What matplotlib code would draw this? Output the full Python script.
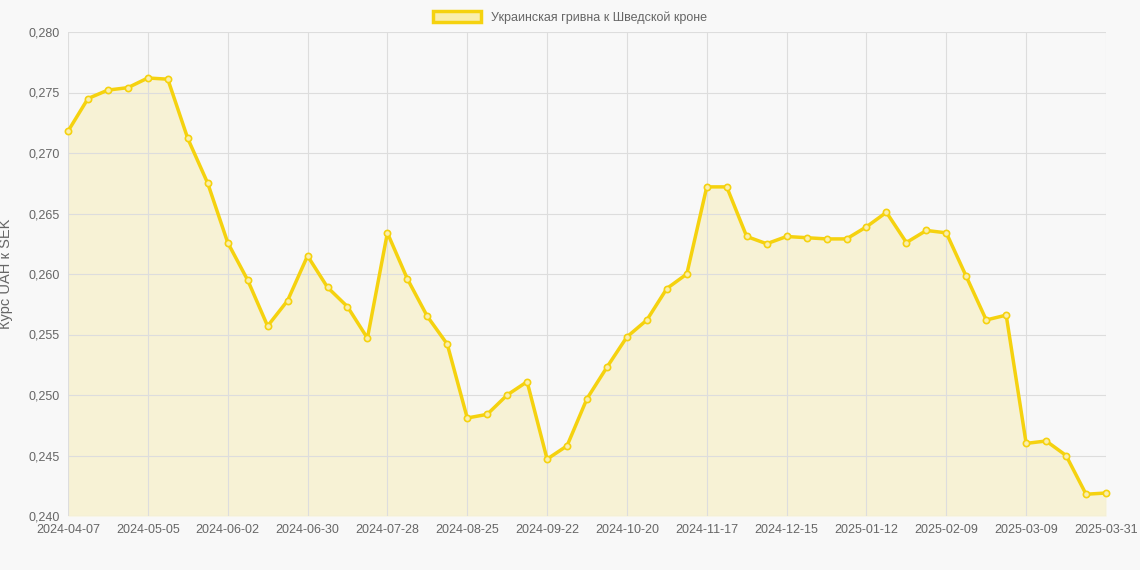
import matplotlib
matplotlib.use("Agg")
import matplotlib.pyplot as plt
import matplotlib.patches as mpatches
import pandas as pd

plt.rcParams['font.family'] = ['Liberation Sans', 'DejaVu Sans']

values = [0.2718,0.2745,0.2752,0.2754,0.2762,0.2761,0.2712,0.2675,0.2626,0.2595,
          0.2557,0.2578,0.2615,0.2589,0.2573,0.2547,0.2634,0.2596,0.2565,0.2542,
          0.2481,0.2484,0.2500,0.2511,0.2447,0.2458,0.2497,0.2523,0.2548,0.2562,
          0.2588,0.2600,0.2672,0.2672,0.2631,0.2625,0.2631,0.2630,0.2629,0.2629,
          0.2639,0.2651,0.2626,0.2636,0.2634,0.2598,0.2562,0.2566,0.2460,0.2462,
          0.2450,0.2418,0.2419]
dates = [d.strftime("%Y-%m-%d") for d in pd.date_range("2024-04-07", periods=52, freq="7D")] + ["2025-03-31"]
label = "Украинская гривна к Шведской кроне"
ylabel = "Курс UAH к SEK"

color = "#f5d20f"
fig = plt.figure(figsize=(11.4, 5.7), dpi=100, facecolor="#f8f8f8")
ax = fig.add_axes([68/1140, 1-516/570, 1038/1140, 484/570])
ax.set_facecolor("#f8f8f8")
x = list(range(len(values)))
ax.fill_between(x, values, 0.24, color=color, alpha=0.15, lw=0)
ax.plot(x, values, color=color, lw=2.5, marker="o", ms=4.5, mfc="#f9eeae", mec=color, mew=1.2, clip_on=False)
ax.set_xlim(0, len(values)-1)
ax.set_ylim(0.24, 0.28)
ticks = list(range(0, len(values)-1, 4)) + [len(values)-1]
ax.set_xticks(ticks)
ax.set_xticklabels([dates[i] for i in ticks])
yt = [0.24 + 0.005*i for i in range(9)]
ax.set_yticks(yt)
ax.set_yticklabels([f"{v:.3f}".replace(".", ",") for v in yt])
ax.tick_params(colors="#666666", labelsize=9, length=0, pad=6)
ax.grid(True, color="#dddddd", lw=0.8)
for s in ax.spines.values():
    s.set_visible(False)
ax.set_ylabel(ylabel, color="#666666", fontsize=10.5)
ax.yaxis.set_label_coords(-0.053, 0.5)
h = mpatches.Patch(facecolor="#f9eeae", edgecolor=color, lw=2.5, label=label)
fig.legend(handles=[h], loc="upper center", bbox_to_anchor=(0.5, 1.0), frameon=False,
           fontsize=9, labelcolor="#666666", handlelength=3.8, handleheight=1.0)
fig.savefig("out.png", dpi=100, facecolor=fig.get_facecolor())
